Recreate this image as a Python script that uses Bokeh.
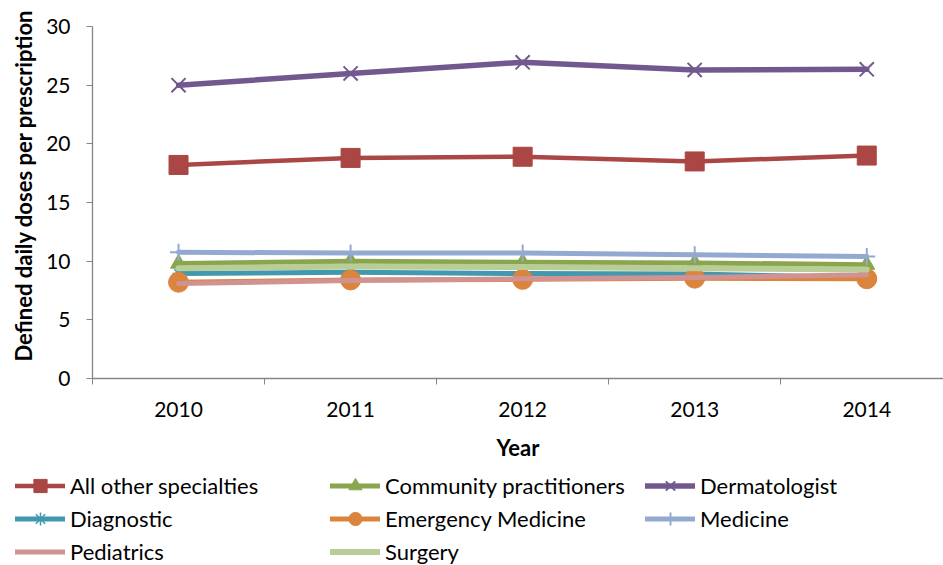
from bokeh.plotting import figure
from bokeh.layouts import column
from bokeh.models import Range1d, FixedTicker, Legend, LegendItem, Title
from bokeh.embed import file_html
from bokeh.resources import INLINE

years = [2010, 2011, 2012, 2013, 2014]
all_other = [18.2, 18.8, 18.9, 18.5, 19.0]
community = [9.8, 10.0, 9.9, 9.85, 9.7]
dermatologist = [25.0, 26.0, 26.95, 26.3, 26.35]
diagnostic = [8.95, 9.05, 8.95, 8.9, 8.6]
emergency = [8.2, 8.4, 8.45, 8.55, 8.5]
medicine = [10.75, 10.7, 10.7, 10.55, 10.4]
pediatrics = [8.1, 8.35, 8.5, 8.6, 8.85]
surgery = [9.4, 9.55, 9.5, 9.4, 9.3]

series = [
    ("All other specialties", all_other, "#AA4643", "square", 19, 4.5),
    ("Community practitioners", community, "#89A54E", "triangle", 16, 5),
    ("Dermatologist", dermatologist, "#71588F", "x", 20, 5.5),
    ("Diagnostic", diagnostic, "#4198AF", "asterisk", 12, 5),
    ("Emergency Medicine", emergency, "#DB843D", "circle", 20, 5),
    ("Medicine", medicine, "#93A9CF", "cross", 17, 5),
    ("Pediatrics", pediatrics, "#D19392", None, 0, 5),
    ("Surgery", surgery, "#B9CD96", None, 0, 6),
]

FONT = "Lato"
W = 943


def draw_series(fig):
    items = []
    for name, vals, color, marker, size, lw in series:
        rs = [fig.line(years, vals, line_color=color, line_width=lw,
                       line_join="round", line_cap="round")]
        if marker is not None:
            if marker in ("x", "asterisk", "cross"):
                m = fig.scatter(years, vals, marker=marker, size=size, line_color=color,
                                line_width=2 if marker != "asterisk" else 1.5)
            else:
                m = fig.scatter(years, vals, marker=marker, size=size,
                                fill_color=color, line_color=color)
            rs.append(m)
        items.append(LegendItem(label=name, renderers=rs))
    return items


p = figure(width=W, height=463, output_backend="svg", toolbar_location=None,
           x_range=Range1d(2009.5, 2014.446), y_range=Range1d(0, 30),
           min_border_left=90, min_border_right=0, min_border_top=26,
           min_border_bottom=84)
p.frame_align = False
p.outline_line_color = None
p.xgrid.grid_line_color = None
p.ygrid.grid_line_color = None
draw_series(p)

xa = p.xaxis[0]
xa.ticker = FixedTicker(ticks=years, minor_ticks=[y - 0.5 for y in years] + [2014.5])
xa.major_label_overrides = {y: str(y) for y in years}
xa.major_tick_line_color = None
xa.major_tick_out = 6
xa.major_tick_in = 0
xa.minor_tick_out = 6
xa.minor_tick_in = 0
xa.minor_tick_line_color = "#868686"
xa.axis_line_color = "#868686"
xa.axis_line_width = 1.3
xa.major_label_standoff = 17
xa.major_label_text_font = FONT
xa.major_label_text_font_size = "21px"
xa.major_label_text_color = "black"
xa.axis_label = "Year"
xa.axis_label_text_font = FONT
xa.axis_label_text_font_size = "22px"
xa.axis_label_text_font_style = "bold"
xa.axis_label_text_color = "black"
xa.axis_label_standoff = 14

ya = p.yaxis[0]
ya.ticker = FixedTicker(ticks=[0, 5, 10, 15, 20, 25, 30])
ya.minor_tick_line_color = None
ya.major_tick_out = 6
ya.major_tick_in = 0
ya.major_tick_line_color = "#868686"
ya.axis_line_color = "#868686"
ya.axis_line_width = 1.3
ya.major_label_standoff = 16
ya.major_label_text_font = FONT
ya.major_label_text_font_size = "21px"
ya.major_label_text_color = "black"

ytitle = Title(text="Defined daily doses per prescription", align="right",
               offset=-17, standoff=14, text_font=FONT, text_font_size="22px",
               text_font_style="bold", text_color="black")
p.add_layout(ytitle, "left")

# legend panel: same series drawn out of view, legend shown in its frame
lg = figure(width=W, height=102, output_backend="svg", toolbar_location=None,
            x_range=Range1d(0, 1), y_range=Range1d(1000, 1001),
            x_axis_location=None, y_axis_location=None,
            min_border=0, min_border_left=0, min_border_right=0,
            min_border_top=0, min_border_bottom=0)
lg.frame_align = False
lg.grid.visible = False
lg.outline_line_color = None
items = draw_series(lg)

legend = Legend(items=items, orientation="horizontal", ncols=3,
                location=(15, -3), glyph_width=50, glyph_height=33,
                label_height=33, label_width=260, label_standoff=5, spacing=0,
                padding=0, margin=0, border_line_color=None,
                background_fill_alpha=0,
                label_text_font=FONT, label_text_font_size="22px",
                label_text_color="black")
lg.add_layout(legend)

layout = column(p, lg, spacing=0)
open("out.html", "w").write(file_html(layout, INLINE))
